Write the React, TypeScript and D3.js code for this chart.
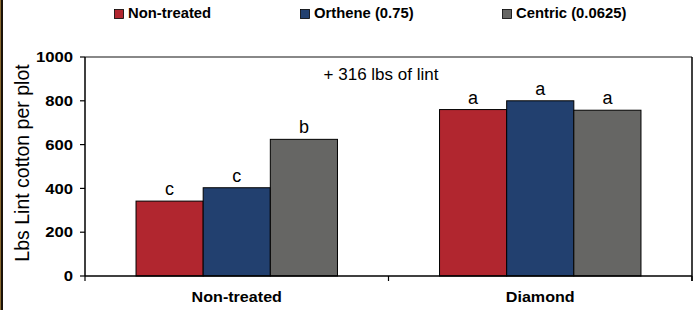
import * as d3 from "d3";

const groups = ["Non-treated", "Diamond"];
const series = ["Non-treated", "Orthene (0.75)", "Centric (0.0625)"];
const colors = ["#B1262F", "#22406F", "#666664"];
const values = [
  [342, 403, 624],
  [760, 800, 757],
];
const letters = [
  ["c", "c", "b"],
  ["a", "a", "a"],
];
const yTicks = [0, 200, 400, 600, 800, 1000];

const W = 696;
const H = 310;
const margin = { top: 57, right: 4, bottom: 34, left: 85 };

const App = () => {
  const innerW = W - margin.left - margin.right;
  const innerH = H - margin.top - margin.bottom;

  const x0 = d3.scaleBand().domain(groups).range([0, innerW]).paddingInner(0).paddingOuter(0);
  const x1 = d3
    .scaleBand()
    .domain(series)
    .range([0, x0.bandwidth()])
    .paddingOuter(0.76)
    .paddingInner(0);
  const y = d3.scaleLinear().domain([0, 1000]).range([innerH, 0]);

  const legendX = [114, 300, 502];
  const font = "Arial, 'Liberation Sans', sans-serif";

  return (
    <svg
      width={W}
      height={H}
      style={{ position: "absolute", left: 0, top: 0, background: "#fff" }}
      fontFamily={font}
    >
      {/* left frame edge */}
      <rect x={0} y={0} width={1} height={H} fill="#8a6a30" />
      <rect x={1} y={0} width={2} height={H} fill="#1a1208" />

      {/* legend */}
      {series.map((s, i) => (
        <g key={s} transform={`translate(${legendX[i]},0)`}>
          <rect x={0.5} y={9.5} width={9} height={9} fill={colors[i]} stroke="#000" strokeWidth={0.8} />
          <text
            transform="translate(14,17.5) scale(1.06,1)"
            fontSize={14}
            fontWeight="bold"
            fill="#000"
          >
            {s}
          </text>
        </g>
      ))}

      <g transform={`translate(${margin.left},${margin.top})`}>
        {/* top and right frame */}
        <line x1={0} x2={innerW} y1={0} y2={0} stroke="#888" strokeWidth={2} />
        <line x1={innerW} x2={innerW} y1={0} y2={innerH + 5} stroke="#000" strokeWidth={1.5} />

        {/* bars */}
        {groups.map((g, gi) => (
          <g key={g} transform={`translate(${x0(g)},0)`}>
            {series.map((s, si) => {
              const v = values[gi][si];
              const bx = x1(s)!;
              return (
                <g key={s}>
                  <rect
                    x={bx}
                    y={y(v)}
                    width={x1.bandwidth()}
                    height={innerH - y(v)}
                    fill={colors[si]}
                    stroke="#000"
                    strokeWidth={1}
                  />
                  <text
                    x={bx + x1.bandwidth() / 2}
                    y={y(v) - 6}
                    textAnchor="middle"
                    fontSize={18}
                    fill="#000"
                  >
                    {letters[gi][si]}
                  </text>
                </g>
              );
            })}
          </g>
        ))}

        {/* y axis */}
        <line x1={0} x2={0} y1={0} y2={innerH} stroke="#000" strokeWidth={1.5} />
        {yTicks.map((t) => (
          <g key={t} transform={`translate(0,${y(t)})`}>
            <line x1={-5} x2={0} stroke="#000" strokeWidth={1.2} />
            <text
              transform="translate(-12,5.2) scale(1.15,1)"
              textAnchor="end"
              fontSize={14.5}
              fontWeight="bold"
              fill="#000"
            >
              {t}
            </text>
          </g>
        ))}

        {/* x axis */}
        <line x1={0} x2={innerW} y1={innerH} y2={innerH} stroke="#000" strokeWidth={1.5} />
        {[...groups.map((g) => x0(g)!), innerW].map((t, i) => (
          <line key={i} x1={t} x2={t} y1={innerH} y2={innerH + 5} stroke="#000" strokeWidth={1.2} />
        ))}
        {groups.map((g) => (
          <text
            key={g}
            transform={`translate(${x0(g)! + x0.bandwidth() / 2},${innerH + 26}) scale(1.15,1)`}
            textAnchor="middle"
            fontSize={14}
            fontWeight="bold"
            fill="#000"
          >
            {g}
          </text>
        ))}

        <text x={296} y={23} textAnchor="middle" fontSize={17} fill="#000">
          + 316 lbs of lint
        </text>
      </g>

      <text
        transform="translate(29,163) rotate(-90)"
        textAnchor="middle"
        fontSize={19.5}
        fill="#000"
      >
        Lbs Lint cotton per plot
      </text>
    </svg>
  );
};

export default App;
